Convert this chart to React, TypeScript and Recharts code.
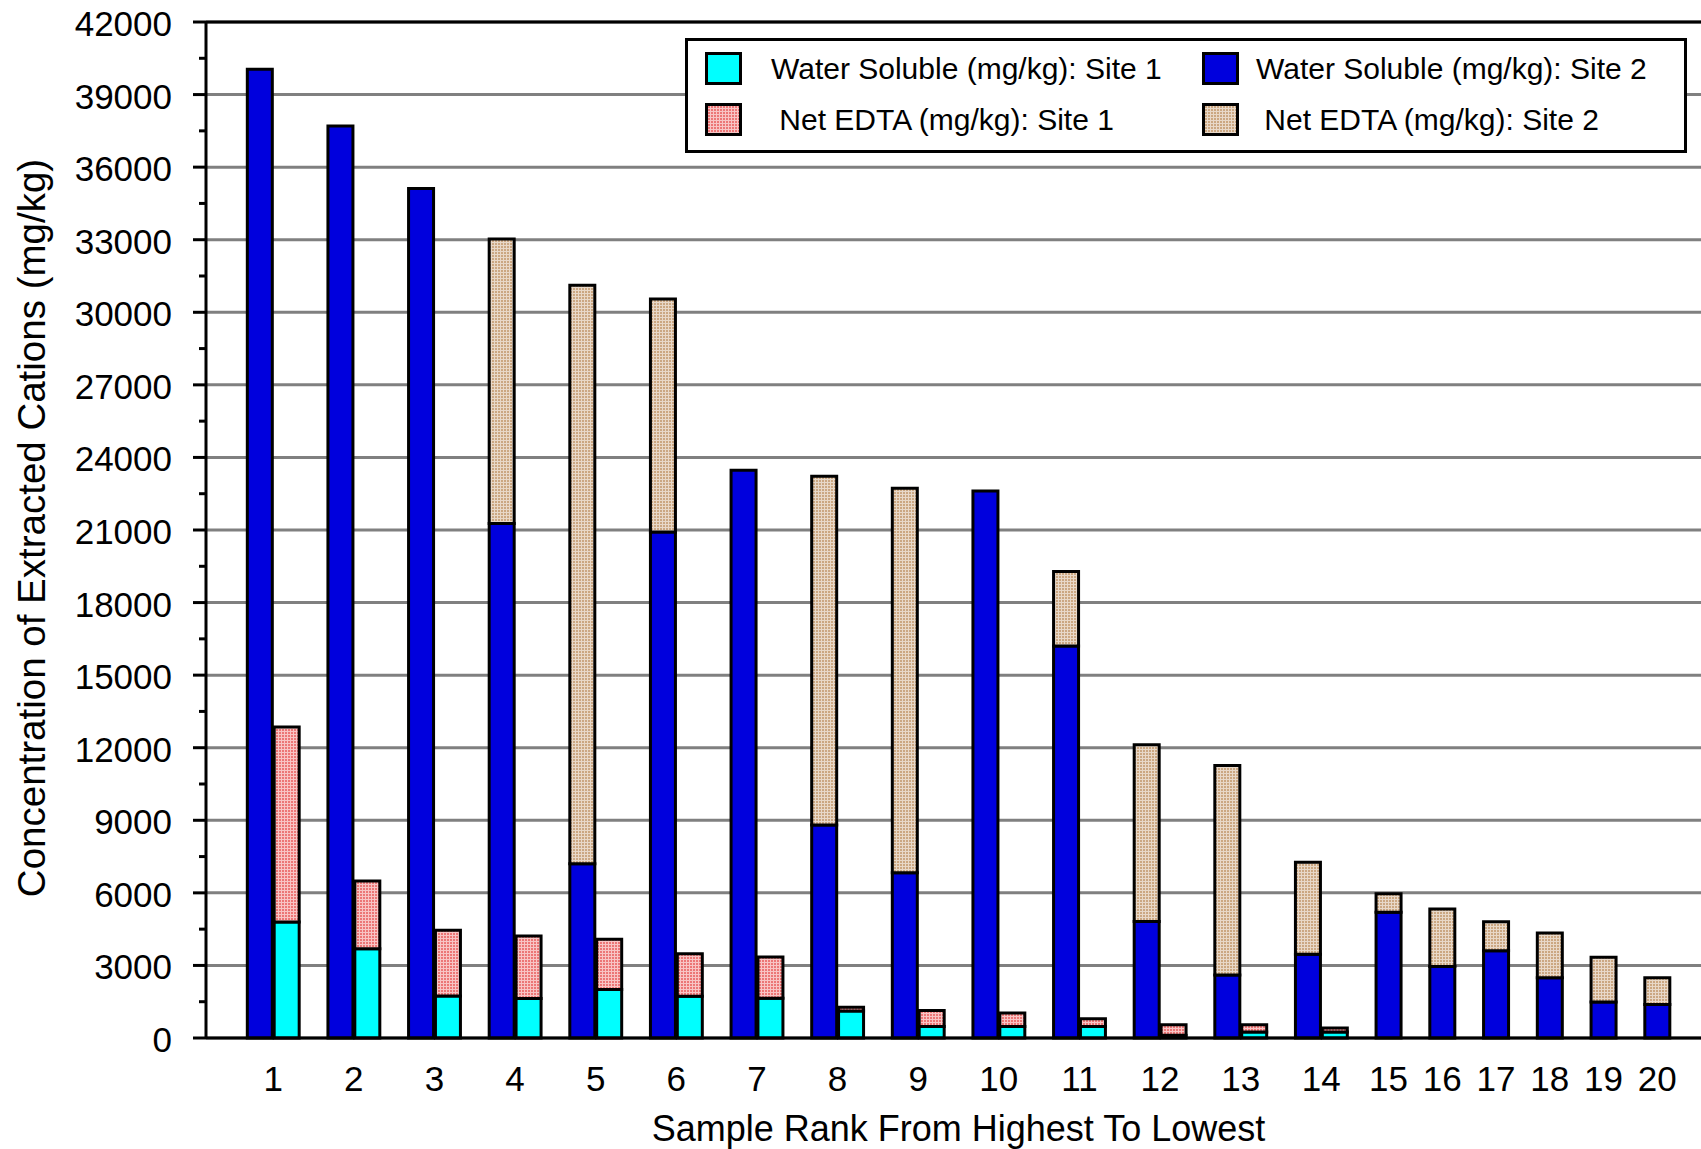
import { BarChart, Bar, XAxis, YAxis, CartesianGrid, ReferenceLine, Label } from "recharts";

const RANKS = ["1", "2", "3", "4", "5", "6", "7", "8", "9", "10", "11", "12", "13", "14", "15", "16", "17", "18", "19", "20"];

// mg/kg, ranked from highest to lowest; site 1 has no samples past rank 14
const WS_SITE1 = [4800, 3690, 1740, 1630, 2010, 1730, 1640, 1120, 480, 480, 480, 110, 250, 250, null, null, null, null, null, null];
const EDTA_SITE1 = [8060, 2800, 2710, 2590, 2070, 1750, 1710, 150, 660, 550, 320, 440, 300, 160, null, null, null, null, null, null];
const WS_SITE2 = [40050, 37700, 35120, 21270, 7200, 20920, 23470, 8800, 6830, 22610, 16200, 4820, 2600, 3460, 5200, 2960, 3610, 2490, 1490, 1380];
const EDTA_SITE2 = [0, 0, 0, 11760, 23920, 9630, 0, 14420, 15900, 0, 3080, 7300, 8660, 3810, 760, 2370, 1200, 1850, 1850, 1110];

const Y_TICKS = [0, 3000, 6000, 9000, 12000, 15000, 18000, 21000, 24000, 27000, 30000, 33000, 36000, 39000, 42000];

const X_TITLE = "Sample Rank From Highest To Lowest";
const Y_TITLE = "Concentration of Extracted Cations (mg/kg)";

const FONT = '"Liberation Sans", Arial, Helvetica, sans-serif';

const SERIES = [
  { key: "ws1", name: "Water Soluble (mg/kg): Site 1", fill: "#00FFFF" },
  { key: "ws2", name: "Water Soluble (mg/kg): Site 2", fill: "#0000DD" },
  { key: "edta1", name: " Net EDTA (mg/kg): Site 1", fill: "url(#edtaSite1)" },
  { key: "edta2", name: " Net EDTA (mg/kg): Site 2", fill: "url(#edtaSite2)" },
];
const STACK_ORDER = ["ws2", "edta2", "ws1", "edta1"];

// Every bar takes one slot on a numeric axis; a rank holds one bar per site
// that has data, plus one empty slot split around it.
const rows: Record<string, number>[] = [];
const rankTicks: number[] = [];
const rankLabel = new Map<number, string>();
let cursor = 1;
RANKS.forEach((rank, i) => {
  const bars: Record<string, number>[] = [];
  if (WS_SITE2[i] != null) bars.push({ ws2: WS_SITE2[i], edta2: EDTA_SITE2[i] });
  if (WS_SITE1[i] != null) bars.push({ ws1: WS_SITE1[i] as number, edta1: EDTA_SITE1[i] as number });
  const start = cursor + 0.5;
  bars.forEach((b, k) => rows.push({ slot: start + k + 0.5, ...b }));
  const center = start + bars.length / 2;
  rankTicks.push(center);
  rankLabel.set(center, rank);
  cursor += bars.length + 1;
});
const SLOT_COUNT = cursor + 1;

// minor ticks halfway between the labelled ones
const MAJOR = new Set(Y_TICKS);
const Y_AXIS_TICKS = Y_TICKS.flatMap((t, i) => (i === 0 ? [t] : [(Y_TICKS[i - 1] + t) / 2, t]));

const TICK_LEN = 13;
const MINOR_LEN = 7;
const TICK_GAP = 21;

function YTick(props: any) {
  const { x, y, payload } = props;
  const axisX = x + TICK_LEN + TICK_GAP;
  const major = MAJOR.has(payload.value);
  return (
    <g>
      <line x1={axisX - (major ? TICK_LEN : MINOR_LEN)} x2={axisX} y1={y} y2={y} stroke="#000" strokeWidth={3} />
      {major && (
        <text x={x} y={y} dy="0.4em" textAnchor="end" fontSize={35} fontFamily={FONT} fill="#000">
          {payload.value}
        </text>
      )}
    </g>
  );
}

function YTitle(props: any) {
  const vb = props.viewBox || { x: 0, y: 22, height: 1016 };
  const cx = vb.x + 31;
  const cy = vb.y + vb.height / 2 - 2;
  return (
    <text
      x={cx}
      y={cy}
      transform={`rotate(-90 ${cx} ${cy})`}
      textAnchor="middle"
      dominantBaseline="central"
      fontSize={38.5}
      fontFamily={FONT}
      fill="#000"
    >
      {Y_TITLE}
    </text>
  );
}

function ChartLegend() {
  return (
    <div
      style={{
        position: "absolute",
        left: 685,
        top: 38,
        width: 1002,
        height: 115,
        boxSizing: "border-box",
        border: "3px solid #000",
        background: "#fff",
        padding: "11px 0 0 17px",
        display: "grid",
        gridTemplateColumns: "497px 480px",
        alignContent: "start",
        rowGap: 18,
        fontFamily: FONT,
        fontSize: 30,
        color: "#000",
      }}
    >
      {SERIES.map((s, i) => (
        <div key={s.key} style={{ display: "flex", alignItems: "center", height: 33 }}>
          <svg width={37} height={33} style={{ flex: "none" }}>
            <rect x={1.5} y={1.5} width={34} height={30} fill={s.fill} stroke="#000" strokeWidth={3} />
          </svg>
          <span style={{ marginLeft: i % 2 === 0 ? 29 : 17, whiteSpace: "pre", lineHeight: 1 }}>{s.name}</span>
        </div>
      ))}
    </div>
  );
}

export default function App() {
  const fills = Object.fromEntries(SERIES.map((s) => [s.key, s.fill]));
  return (
    <div
      style={{
        position: "absolute",
        left: 0,
        top: 0,
        width: 1701,
        height: 1149,
        overflow: "hidden",
        background: "#fff",
      }}
    >
      {/* stippled fills for the EDTA segments, shared by bars and legend */}
      <svg width={0} height={0} style={{ position: "absolute" }}>
        <defs>
          <pattern id="edtaSite1" width={3} height={3} patternUnits="userSpaceOnUse">
            <rect width={3} height={3} fill="#F8C4C4" />
            <rect width={2} height={2} fill="#EC7676" />
          </pattern>
          <pattern id="edtaSite2" width={3} height={3} patternUnits="userSpaceOnUse">
            <rect width={3} height={3} fill="#E8D8C8" />
            <rect width={2} height={2} fill="#CBA782" />
          </pattern>
        </defs>
      </svg>
      <BarChart
        width={1711}
        height={1149}
        data={rows}
        margin={{ top: 22, right: 0, bottom: 0, left: 0 }}
        barCategoryGap={0}
        barGap={0}
      >
        <CartesianGrid vertical={false} horizontalValues={Y_TICKS} stroke="#808080" strokeWidth={3} />
        <XAxis
          type="number"
          dataKey="slot"
          domain={[0, SLOT_COUNT]}
          ticks={rankTicks}
          interval={0}
          tickFormatter={(v) => rankLabel.get(v) ?? ""}
          tickLine={false}
          tickSize={0}
          tickMargin={28}
          height={111}
          axisLine={{ stroke: "#000", strokeWidth: 3 }}
          tick={{ fontSize: 35, fill: "#000", fontFamily: FONT }}
        >
          <Label value={X_TITLE} position="insideBottom" offset={8} fontSize={36} fontFamily={FONT} fill="#000" />
        </XAxis>
        <YAxis
          type="number"
          domain={[0, 42000]}
          ticks={Y_AXIS_TICKS}
          interval={0}
          width={206}
          tickLine={false}
          tickSize={TICK_LEN}
          tickMargin={TICK_GAP}
          axisLine={{ stroke: "#000", strokeWidth: 3 }}
          tick={<YTick />}
        >
          <Label content={YTitle} />
        </YAxis>
        <ReferenceLine y={42000} stroke="#000" strokeWidth={3} />
        {STACK_ORDER.map((key) => (
          <Bar
            key={key}
            dataKey={key}
            stackId="rank"
            fill={fills[key]}
            stroke="#000"
            strokeWidth={3}
            barSize={25}
            isAnimationActive={false}
          />
        ))}
      </BarChart>
      <ChartLegend />
    </div>
  );
}
